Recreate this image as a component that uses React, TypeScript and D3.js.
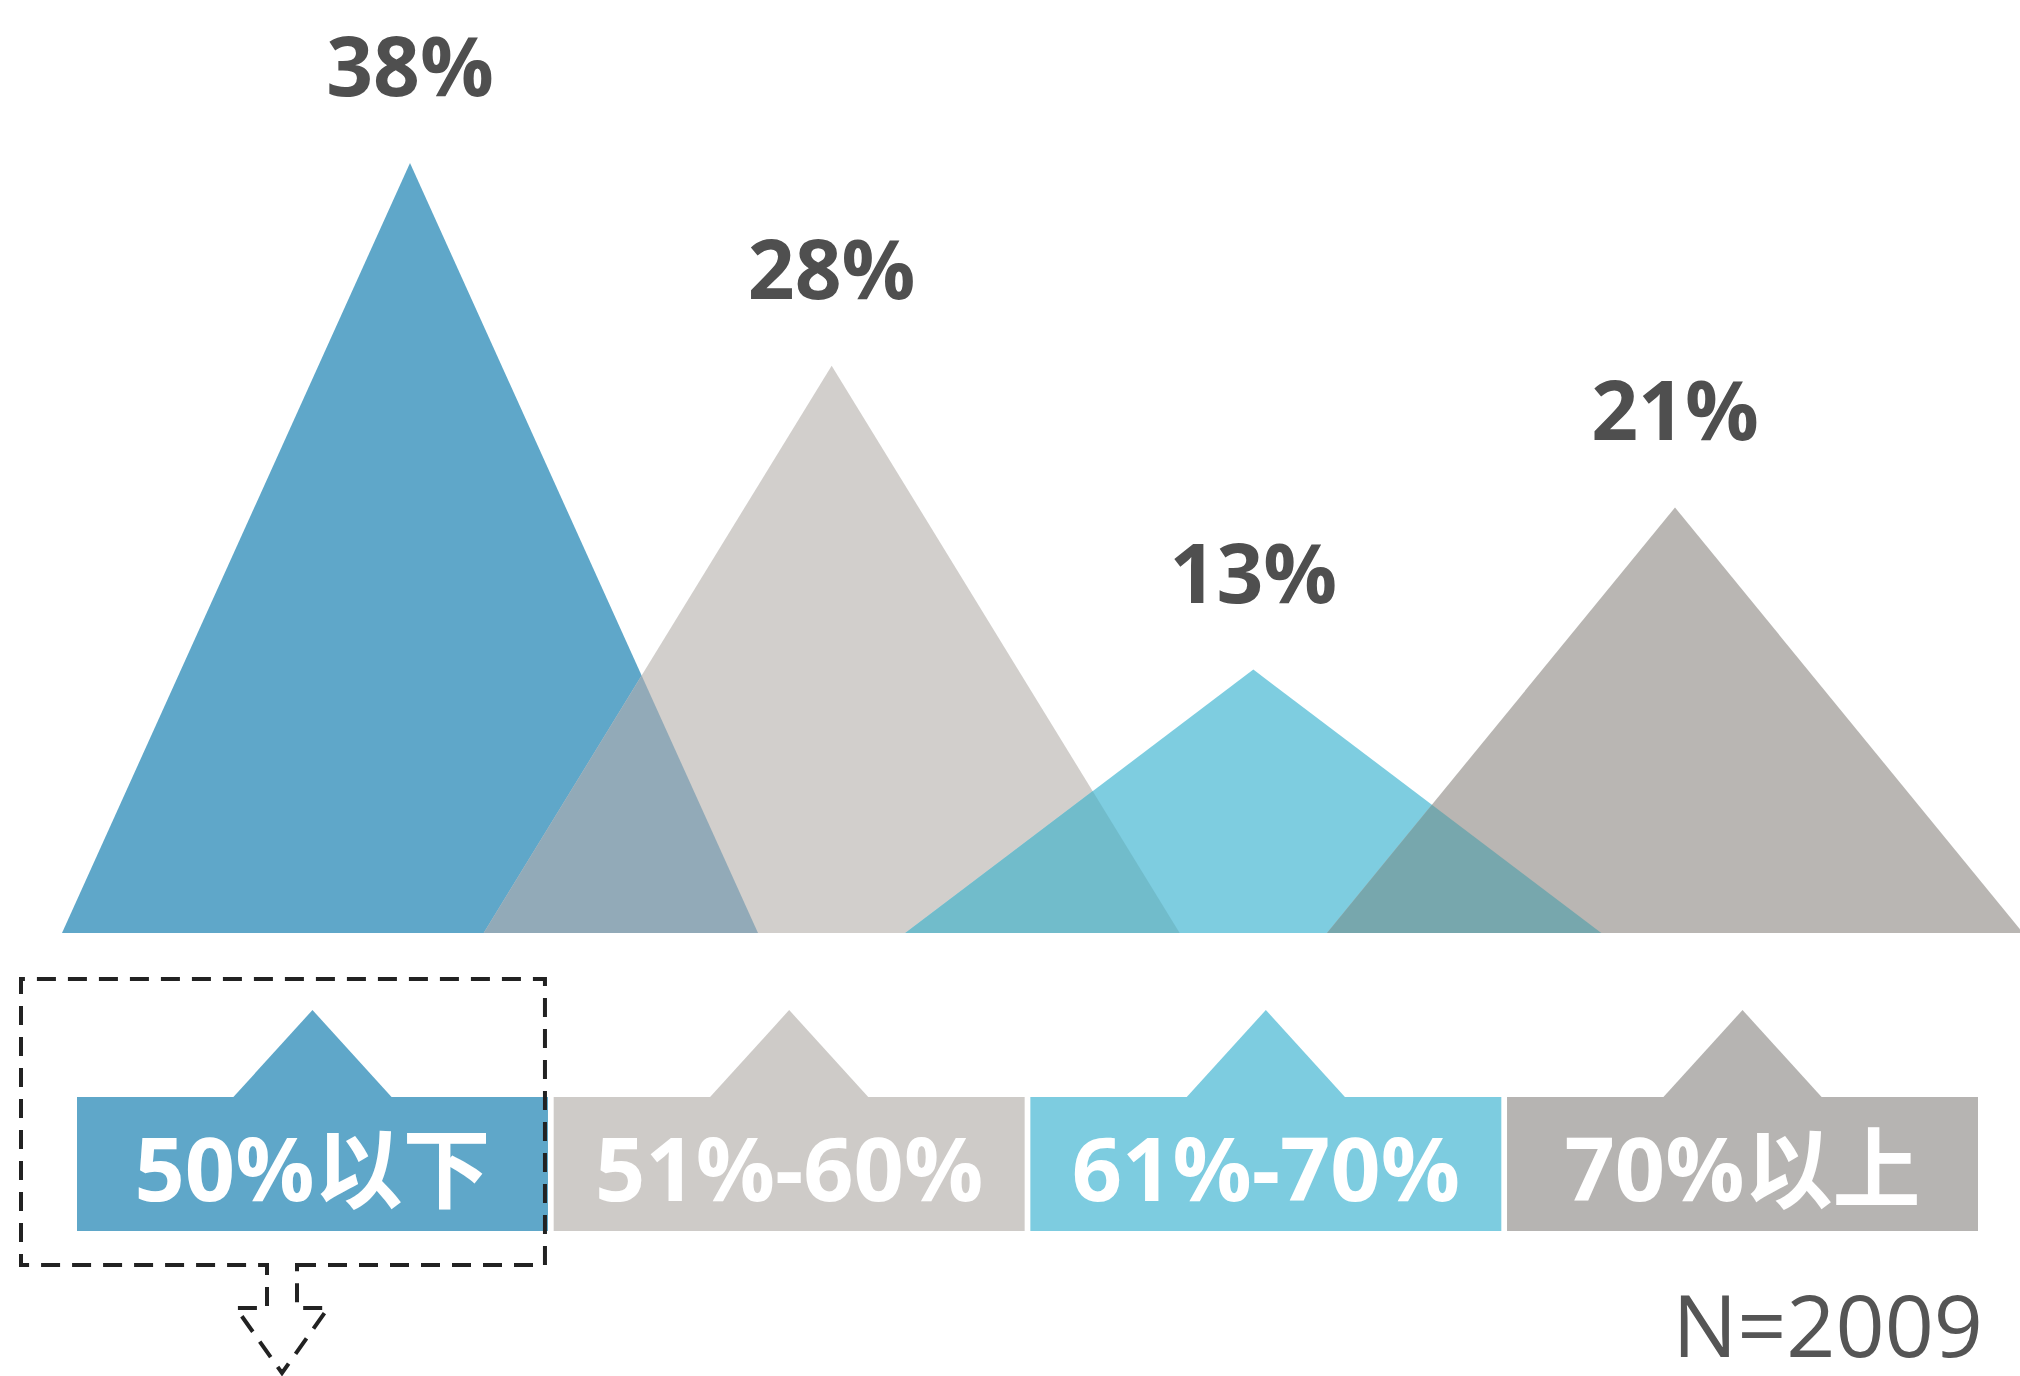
import * as d3 from "d3";

const categories = ["50%以下", "51%-60%", "61%-70%", "70%以上"];
const values = [38, 28, 13, 21];
const valueLabels = ["38%", "28%", "13%", "21%"];
const peakColors = ["#5fa7c9", "#d2cfcc", "#7ecde0", "#b9b6b3"];
const overlapColors = ["#92aab8", "#71bccb", "#77a7ad"];
const legendColors = ["#5fa7c9", "#cecbc8", "#7dcce0", "#b6b4b2"];
const sampleNote = "N=2009";

const W = 2020;
const H = 1376;
const base = 933;
const halfW = 348;

export default function App() {
  const x = d3.scalePoint<string>().domain(categories).range([410, 1675]);
  const y = d3.scaleLinear().domain([0, 38]).range([base, 163]);
  const band = d3
    .scaleBand<string>()
    .domain(categories)
    .range([77, 1978])
    .paddingInner(0.012);

  const line = d3.line<[number, number]>();
  const tri = (c: string, v: number) => {
    const cx = x(c)!;
    return (
      line([
        [cx - halfW, base],
        [cx, y(v)],
        [cx + halfW, base],
      ]) + "Z"
    );
  };

  // legend geometry
  const boxTop = 1097;
  const boxBottom = 1231;
  const tipY = 1010;
  const tipHalf = 80;

  // dashed callout around first legend item
  const b0 = band(categories[0])!;
  const dx0 = b0 - 56;
  const dx1 = b0 + band.bandwidth() - 3;
  const dy0 = 979;
  const dy1 = 1265;
  const ax = dx0 + 261;
  const callout = [
    `M${ax + 15},${dy1}`,
    `H${dx1}V${dy0}H${dx0}V${dy1}H${ax - 15}`,
    `V${dy1 + 43}H${ax - 46}L${ax},${dy1 + 108}L${ax + 46},${dy1 + 43}H${ax + 15}Z`,
  ].join("");

  return (
    <svg
      width={W}
      height={H}
      style={{ position: "absolute", left: 0, top: 0, background: "#fff" }}
      fontFamily="'Open Sans', 'Noto Sans CJK SC', sans-serif"
    >
      <defs>
        {categories.map((c, i) => (
          <clipPath id={`clip-${i}`} key={c}>
            <path d={tri(c, values[i])} />
          </clipPath>
        ))}
      </defs>

      {categories.map((c, i) => (
        <path key={c} d={tri(c, values[i])} fill={peakColors[i]} />
      ))}
      {categories.slice(1).map((c, i) => (
        <path
          key={"ov" + c}
          d={tri(c, values[i + 1])}
          fill={overlapColors[i]}
          clipPath={`url(#clip-${i})`}
        />
      ))}

      {categories.map((c, i) => (
        <text
          key={"lab" + c}
          x={x(c)}
          y={y(values[i]) - 67}
          textAnchor="middle"
          fontSize={82}
          fontWeight={700}
          fill="#4f4f4f"
        >
          {valueLabels[i]}
        </text>
      ))}

      {categories.map((c, i) => {
        const bx = band(c)!;
        const cx = bx + band.bandwidth() / 2;
        return (
          <g key={"leg" + c}>
            <rect
              x={bx}
              y={boxTop}
              width={band.bandwidth()}
              height={boxBottom - boxTop}
              fill={legendColors[i]}
            />
            <path
              d={`M${cx - tipHalf},${boxTop + 1}L${cx},${tipY}L${cx + tipHalf},${boxTop + 1}Z`}
              fill={legendColors[i]}
            />
            <text
              x={cx}
              y={1201}
              textAnchor="middle"
              fontSize={88}
              fontWeight={700}
              fill="#fff"
            >
              {c}
            </text>
          </g>
        );
      })}

      <path
        d={callout}
        fill="none"
        stroke="#222"
        strokeWidth={4}
        strokeDasharray="19 12"
      />

      <text
        x={1983}
        y={1357}
        textAnchor="end"
        fontSize={86}
        fill="#555"
      >
        {sampleNote}
      </text>
    </svg>
  );
}
